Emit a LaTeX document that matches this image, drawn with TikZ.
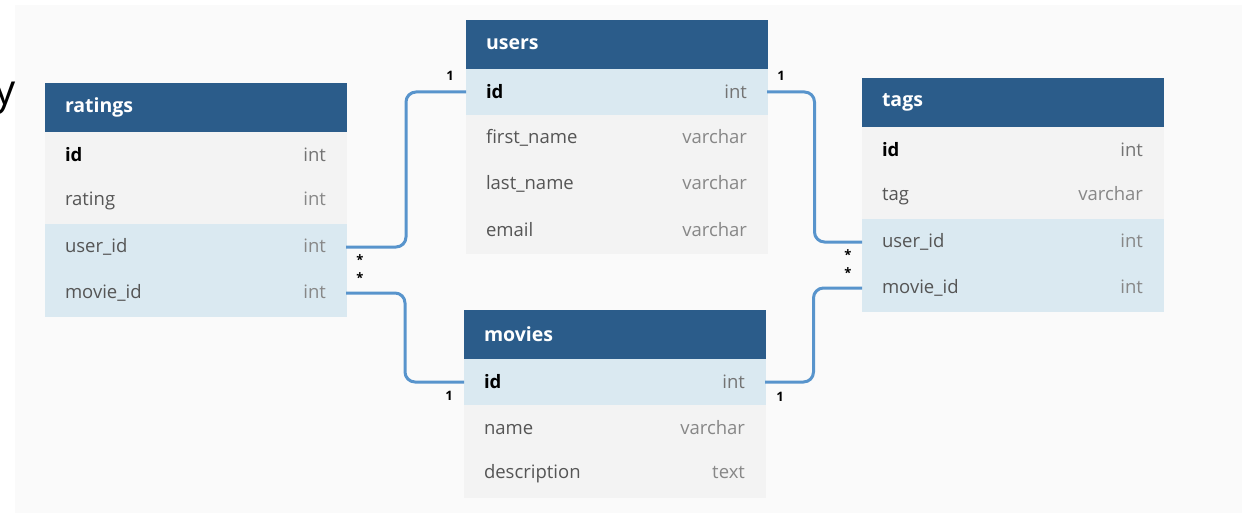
\documentclass[tikz,border=0pt]{standalone}
\usepackage{fontspec}
\setmainfont{Open Sans}
\usetikzlibrary{calc}
\definecolor{hdrblue}{RGB}{43,92,138}
\definecolor{rowblue}{RGB}{218,233,241}
\definecolor{rowgray}{RGB}{243,243,243}
\definecolor{bggray}{RGB}{250,250,250}
\definecolor{namegray}{RGB}{85,85,85}
\definecolor{typegray}{RGB}{135,135,135}
\definecolor{idtype}{RGB}{115,115,115}
\definecolor{linkblue}{RGB}{88,148,204}
\newcommand{\rw}[2]{\textcolor{namegray}{#1}\hfill\textcolor{typegray}{#2}}
\newcommand{\rwid}[2]{\textcolor{black}{\bfseries #1}\hfill\textcolor{idtype}{#2}}
\tikzset{
  tbl/.style={rectangle, text width=261pt, inner xsep=20pt, inner ysep=0pt, outer sep=0pt,
    anchor=north west, align=left, font=\fontsize{18.5}{20}\selectfont, line width=0.8pt},
  hdr/.style={tbl, minimum height=49pt, fill=hdrblue, draw=hdrblue, text=white,
    font=\fontsize{19.5}{20}\selectfont\bfseries},
  plainrow/.style={tbl, minimum height=46pt, fill=rowgray, draw=rowgray},
  keyrow/.style={tbl, minimum height=46pt, fill=rowblue, draw=rowblue},
  conn/.style={draw=linkblue, line width=3pt, rounded corners=10pt},
  card/.style={inner sep=0pt, font=\fontsize{13}{14}\selectfont\bfseries, text=black},
}
\begin{document}
\begin{tikzpicture}[x=1pt,y=-1pt]
\useasboundingbox (0,0) rectangle (1246,513);
\fill[bggray] (15,5) rectangle (1242,513);
\node[anchor=north east, inner sep=0pt, font=\fontsize{42}{42}\selectfont] (frag) at (16,82) {y};

% ratings
\node[hdr] (ratings) at (45,83) {ratings};
\node[plainrow] (ratings-id) at (ratings.south west) {\rwid{id}{int}};
\node[plainrow] (ratings-rating) at (ratings-id.south west) {\rw{rating}{int}};
\node[keyrow] (ratings-user) at (ratings-rating.south west) {\rw{user\_id}{int}};
\node[keyrow] (ratings-movie) at (ratings-user.south west) {\rw{movie\_id}{int}};

% users
\node[hdr] (users) at (466,20) {users};
\node[keyrow] (users-id) at (users.south west) {\rwid{id}{int}};
\node[plainrow] (users-first) at (users-id.south west) {\rw{first\_name}{varchar}};
\node[plainrow] (users-last) at (users-first.south west) {\rw{last\_name}{varchar}};
\node[plainrow] (users-email) at (users-last.south west) {\rw{email}{varchar}};

% tags
\node[hdr] (tags) at (862,78) {tags};
\node[plainrow] (tags-id) at (tags.south west) {\rwid{id}{int}};
\node[plainrow] (tags-tag) at (tags-id.south west) {\rw{tag}{varchar}};
\node[keyrow] (tags-user) at (tags-tag.south west) {\rw{user\_id}{int}};
\node[keyrow] (tags-movie) at (tags-user.south west) {\rw{movie\_id}{int}};

% movies
\node[hdr] (movies) at (464,310) {movies};
\node[keyrow] (movies-id) at (movies.south west) {\rwid{id}{int}};
\node[plainrow] (movies-name) at (movies-id.south west) {\rw{name}{varchar}};
\node[plainrow] (movies-desc) at (movies-name.south west) {\rw{description}{text}};

% connectors
\draw[conn] (ratings-user.east) -| ($(ratings-user.east)!0.5!(users-id.west)$) |- (users-id.west);
\draw[conn] (ratings-movie.east) -| ($(ratings-movie.east)!0.5!(movies-id.west)$) |- (movies-id.west);
\draw[conn] (users-id.east) -| ($(users-id.east)!0.5!(tags-user.west)$) |- (tags-user.west);
\draw[conn] (movies-id.east) -| ($(movies-id.east)!0.5!(tags-movie.west)$) |- (tags-movie.west);

% cardinalities
\node[card] (c1) at ($(users-id.west)+(-16,-16)$) {1};
\node[card] (c2) at ($(ratings-user.east)+(14,13)$) {*};
\node[card] (c3) at ($(ratings-movie.east)+(14,-15)$) {*};
\node[card] (c4) at ($(movies-id.west)+(-15,14)$) {1};
\node[card] (c5) at ($(users-id.east)+(14,-16)$) {1};
\node[card] (c6) at ($(tags-user.west)+(-14,13)$) {*};
\node[card] (c7) at ($(tags-movie.west)+(-14,-15)$) {*};
\node[card] (c8) at ($(movies-id.east)+(15,15)$) {1};
\end{tikzpicture}
\end{document}
